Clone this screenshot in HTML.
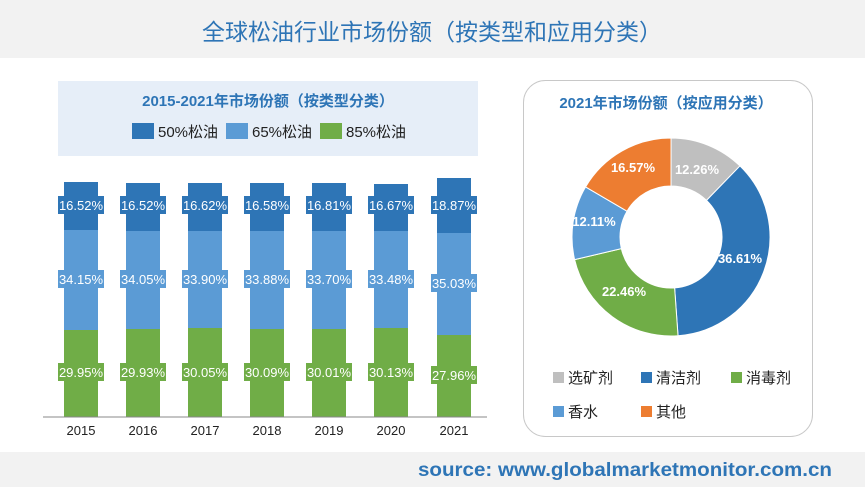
<!DOCTYPE html>
<html><head><meta charset="utf-8"><style>
html,body{margin:0;padding:0;background:#fff;}
svg{display:block;font-family:"Liberation Sans","Noto Sans CJK SC",sans-serif;}
</style></head><body>
<svg id="s" width="865" height="487" viewBox="0 0 865 487" xmlns="http://www.w3.org/2000/svg">
<rect x="0" y="0" width="865" height="58" fill="#f2f2f2"/>
<text x="432" y="40" text-anchor="middle" font-size="23" fill="#2e75b6" font-family="Noto Sans CJK SC, sans-serif">全球松油行业市场份额（按类型和应用分类）</text>
<rect x="0" y="452" width="865" height="35" fill="#f2f2f2"/>
<text x="418" y="476" font-size="19" font-weight="bold" fill="#2e75b6" textLength="414" lengthAdjust="spacingAndGlyphs">source: www.globalmarketmonitor.com.cn</text>

<rect x="58" y="81" width="420" height="75" fill="#e6eef8"/>
<text x="268" y="106" text-anchor="middle" font-size="15" font-weight="bold" fill="#2e75b6">2015-2021年市场份额（按类型分类）</text>
<rect x="132" y="123" width="22" height="16" fill="#2e75b6"/>
<text x="158" y="137" font-size="15" fill="#222">50%松油</text>
<rect x="226" y="123" width="22" height="16" fill="#5b9bd5"/>
<text x="252" y="137" font-size="15" fill="#222">65%松油</text>
<rect x="320" y="123" width="22" height="16" fill="#70ad47"/>
<text x="346" y="137" font-size="15" fill="#222">85%松油</text>

<g id="bars"></g>
<line x1="43" y1="417" x2="487" y2="417" stroke="#888" stroke-width="1"/>

<rect x="523.5" y="80.5" width="289" height="356" rx="22" fill="none" stroke="#c8c8c8"/>
<text x="666" y="108" text-anchor="middle" font-size="15" font-weight="bold" fill="#2e75b6">2021年市场份额（按应用分类）</text>
<g id="donut"></g>
<rect x="553" y="372" width="11" height="11" fill="#bfbfbf"/><text x="568" y="383" font-size="15" fill="#222">选矿剂</text>
<rect x="641" y="372" width="11" height="11" fill="#2e75b6"/><text x="656" y="383" font-size="15" fill="#222">清洁剂</text>
<rect x="731" y="372" width="11" height="11" fill="#70ad47"/><text x="746" y="383" font-size="15" fill="#222">消毒剂</text>
<rect x="553" y="406" width="11" height="11" fill="#5b9bd5"/><text x="568" y="417" font-size="15" fill="#222">香水</text>
<rect x="641" y="406" width="11" height="11" fill="#ed7d31"/><text x="656" y="417" font-size="15" fill="#222">其他</text>
</svg>
<script>
var NS="http://www.w3.org/2000/svg";
function el(p,t,a,txt){var e=document.createElementNS(NS,t);for(var k in a)e.setAttribute(k,a[k]);if(txt)e.textContent=txt;p.appendChild(e);return e;}
var years=["2015","2016","2017","2018","2019","2020","2021"];
var cx=[81,143,205,267,329,391,454];
var tops=[182,183,183,183,183,184,178],mid1=[230,231,231,231,231,231,233],mid2=[330,329,328,329,329,328,335];
var d=["16.52%","16.52%","16.62%","16.58%","16.81%","16.67%","18.87%"];
var l=["34.15%","34.05%","33.90%","33.88%","33.70%","33.48%","35.03%"];
var g=["29.95%","29.93%","30.05%","30.09%","30.01%","30.13%","27.96%"];
var B=document.getElementById("bars");
var sc=["#2e75b6","#5b9bd5","#70ad47"];
for(var i=0;i<7;i++){var x=cx[i]-17;
el(B,"rect",{x:x,y:tops[i],width:34,height:mid1[i]-tops[i],fill:sc[0]});
el(B,"rect",{x:x,y:mid1[i],width:34,height:mid2[i]-mid1[i],fill:sc[1]});
el(B,"rect",{x:x,y:mid2[i],width:34,height:417-mid2[i],fill:sc[2]});
var labs=[[d[i],205],[l[i],i==6?283:279],[g[i],i==6?375:372]];
for(var j=0;j<3;j++){
el(B,"rect",{x:cx[i]-23,y:labs[j][1]-9,width:46,height:18,fill:sc[j]});
el(B,"text",{x:cx[i],y:labs[j][1]+5,"text-anchor":"middle","font-size":"13",fill:"#fff"},labs[j][0]);}
el(B,"text",{x:cx[i],y:435,"text-anchor":"middle","font-size":"13",fill:"#222"},years[i]);}
var D=document.getElementById("donut");
var vals=[12.26,36.61,22.46,12.11,16.57],cols=["#bfbfbf","#2e75b6","#70ad47","#5b9bd5","#ed7d31"];
var labels=["12.26%","36.61%","22.46%","12.11%","16.57%"];
var lp=[[697,174],[740,263],[624,296],[594,226],[633,172]];
var X=671,Y=237,R=99,r=51,a=0;
function pt(rr,t){return [X+rr*Math.sin(t),Y-rr*Math.cos(t)];}
for(var i=0;i<5;i++){var a0=a,a1=a+vals[i]/100*2*Math.PI;a=a1;
var p1=pt(R,a0),p2=pt(R,a1),p3=pt(r,a1),p4=pt(r,a0),lg=(a1-a0)>Math.PI?1:0;
el(D,"path",{d:"M"+p1+" A"+R+","+R+" 0 "+lg+" 1 "+p2+" L"+p3+" A"+r+","+r+" 0 "+lg+" 0 "+p4+"Z",fill:cols[i],stroke:"#fff","stroke-width":"1"});
el(D,"text",{x:lp[i][0],y:lp[i][1],"text-anchor":"middle","font-size":"13","font-weight":"bold",fill:"#fff"},labels[i]);}
</script>
</body></html>
